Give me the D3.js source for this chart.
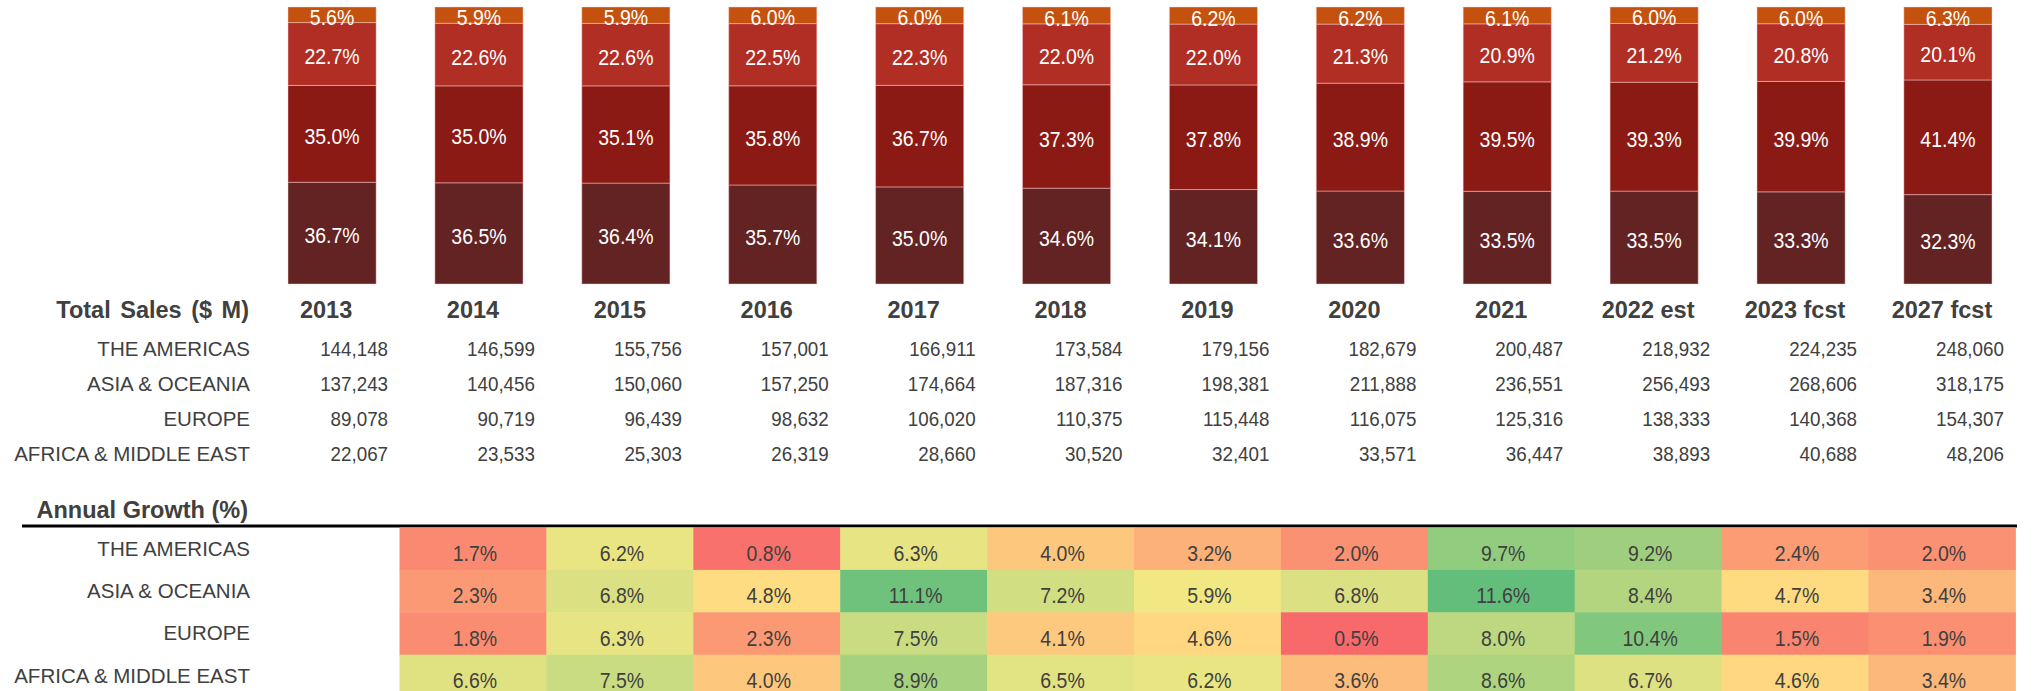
<!DOCTYPE html>
<html>
<head>
<meta charset="utf-8">
<script src="https://cdn.jsdelivr.net/npm/d3@7"></script>
<style>
  html, body { margin: 0; padding: 0; background: #fff; }
  svg text { font-family: "Liberation Sans", Arial, sans-serif; }
</style>
</head>
<body>
<div id="chart"></div>
<script>
const years = ['2013', '2014', '2015', '2016', '2017', '2018', '2019', '2020', '2021', '2022 est', '2023 fcst', '2027 fcst'];
const regions = ['THE AMERICAS', 'ASIA & OCEANIA', 'EUROPE', 'AFRICA & MIDDLE EAST'];

// total sales, $ M
const americasSales = [144148, 146599, 155756, 157001, 166911, 173584, 179156, 182679, 200487, 218932, 224235, 248060];
const asiaSales = [137243, 140456, 150060, 157250, 174664, 187316, 198381, 211888, 236551, 256493, 268606, 318175];
const europeSales = [89078, 90719, 96439, 98632, 106020, 110375, 115448, 116075, 125316, 138333, 140368, 154307];
const africaSales = [22067, 23533, 25303, 26319, 28660, 30520, 32401, 33571, 36447, 38893, 40688, 48206];

// annual growth %, 2014 .. 2027 fcst
const growthYears = years.slice(1);
const americasGrowth = [1.7, 6.2, 0.8, 6.3, 4.0, 3.2, 2.0, 9.7, 9.2, 2.4, 2.0];
const asiaGrowth = [2.3, 6.8, 4.8, 11.1, 7.2, 5.9, 6.8, 11.6, 8.4, 4.7, 3.4];
const europeGrowth = [1.8, 6.3, 2.3, 7.5, 4.1, 4.6, 0.5, 8.0, 10.4, 1.5, 1.9];
const africaGrowth = [6.6, 7.5, 4.0, 8.9, 6.5, 6.2, 3.6, 8.6, 6.7, 4.6, 3.4];

const sales = [americasSales, asiaSales, europeSales, africaSales];
const growth = [americasGrowth, asiaGrowth, europeGrowth, africaGrowth];

const regionColors = ['#632323', '#8B1A14', '#B12E25', '#C4510E'];
const textColor = '#404040';

const width = 2034, height = 691;

const svg = d3.select('#chart').append('svg')
  .attr('width', width)
  .attr('height', height);

// text that is a bit taller than wide, like the original
function stretched(sel, x, y, sy) {
  return sel.attr('transform', (d, i) => 'translate(' + x(d, i) + ',' + y(d, i) + ') scale(1,' + sy + ')');
}

const x = d3.scaleBand().domain(years).range([288, 1992]).paddingInner(0.4).paddingOuter(0);
const y = d3.scaleLinear().domain([0, 1]).range([284, 7]);
const colX = yr => x(yr) + x.bandwidth() / 2 - 6;

// stacked share bars
const table = years.map((yr, i) => {
  const row = { year: yr };
  regions.forEach((r, k) => { row[r] = sales[k][i]; });
  return row;
});
const series = d3.stack().keys(regions).offset(d3.stackOffsetExpand)(table);
const pct = d3.format('.1%');

const layers = svg.append('g').selectAll('g')
  .data(series)
  .join('g')
    .attr('fill', (d, i) => regionColors[i]);

layers.selectAll('rect')
  .data(d => d)
  .join('rect')
    .attr('x', d => x(d.data.year))
    .attr('y', d => y(d[1]))
    .attr('width', x.bandwidth())
    .attr('height', d => y(d[0]) - y(d[1]))
    .attr('stroke', 'rgba(255,210,210,0.45)')
    .attr('stroke-width', 1);

stretched(layers.selectAll('text')
  .data(d => d)
  .join('text'),
    d => x(d.data.year) + x.bandwidth() / 2,
    d => (y(d[0]) + y(d[1])) / 2 + 2.5, 1.12)
    .attr('text-anchor', 'middle')
    .attr('dy', '0.35em')
    .attr('fill', '#fff')
    .style('font-size', '19.5px')
    .text(d => pct(d[1] - d[0]));

// sales table
const headY = 317.5;
svg.append('text')
  .attr('x', 249).attr('y', headY)
  .attr('text-anchor', 'end')
  .attr('fill', textColor)
  .style('font-size', '23.5px').style('font-weight', 'bold')
  .style('word-spacing', '3px')
  .text('Total Sales ($ M)');

svg.append('g').selectAll('text')
  .data(years)
  .join('text')
    .attr('x', d => colX(d)).attr('y', headY)
    .attr('text-anchor', 'middle')
    .attr('fill', textColor)
    .style('font-size', '23.5px').style('font-weight', 'bold')
    .text(d => d);

const rowY = d3.scalePoint().domain(regions).range([355.5, 460.5]);
const fmt = d3.format(',');

svg.append('g').selectAll('text')
  .data(regions)
  .join('text')
    .attr('x', 250).attr('y', d => rowY(d))
    .attr('text-anchor', 'end')
    .attr('fill', textColor)
    .style('font-size', '20.5px')
    .text(d => d);

regions.forEach((r, k) => {
  stretched(svg.append('g').selectAll('text')
    .data(sales[k])
    .join('text'),
      (d, i) => colX(years[i]) + 62,
      () => rowY(r), 1.08)
      .attr('text-anchor', 'end')
      .attr('fill', textColor)
      .style('font-size', '18.8px')
      .text(d => fmt(d));
});

// annual growth heatmap
svg.append('text')
  .attr('x', 248).attr('y', 518)
  .attr('text-anchor', 'end')
  .attr('fill', textColor)
  .style('font-size', '23.5px').style('font-weight', 'bold')
  .text('Annual Growth (%)');

svg.append('line')
  .attr('x1', 22).attr('x2', 2017)
  .attr('y1', 526).attr('y2', 526)
  .attr('stroke', '#000').attr('stroke-width', 3);

const allGrowth = growth.flat();
const color = d3.scaleLinear()
  .domain([d3.min(allGrowth), d3.median(allGrowth), d3.max(allGrowth)])
  .range(['#F8696B', '#FFEB84', '#63BE7B']);

const rowBand = d3.scaleBand().domain(regions).range([527.5, 527.5 + 4 * 42.4]);
const step = x.step();

svg.append('g').selectAll('text')
  .data(regions)
  .join('text')
    .attr('x', 250).attr('y', d => rowBand(d) + 28)
    .attr('text-anchor', 'end')
    .attr('fill', textColor)
    .style('font-size', '20.5px')
    .text(d => d);

regions.forEach((r, k) => {
  const g = svg.append('g');
  g.selectAll('rect')
    .data(growth[k])
    .join('rect')
      .attr('x', (d, i) => colX(growthYears[i]) - step / 2)
      .attr('y', rowBand(r))
      .attr('width', step + 0.5)
      .attr('height', rowBand.bandwidth() + 0.5)
      .attr('fill', d => color(d));
  stretched(g.selectAll('text')
    .data(growth[k])
    .join('text'),
      (d, i) => colX(growthYears[i]) + 2,
      () => rowBand(r) + 33.3, 1.15)
      .attr('text-anchor', 'middle')
      .attr('fill', textColor)
      .style('font-size', '19.5px')
      .text(d => d.toFixed(1) + '%');
});
</script>
</body>
</html>
